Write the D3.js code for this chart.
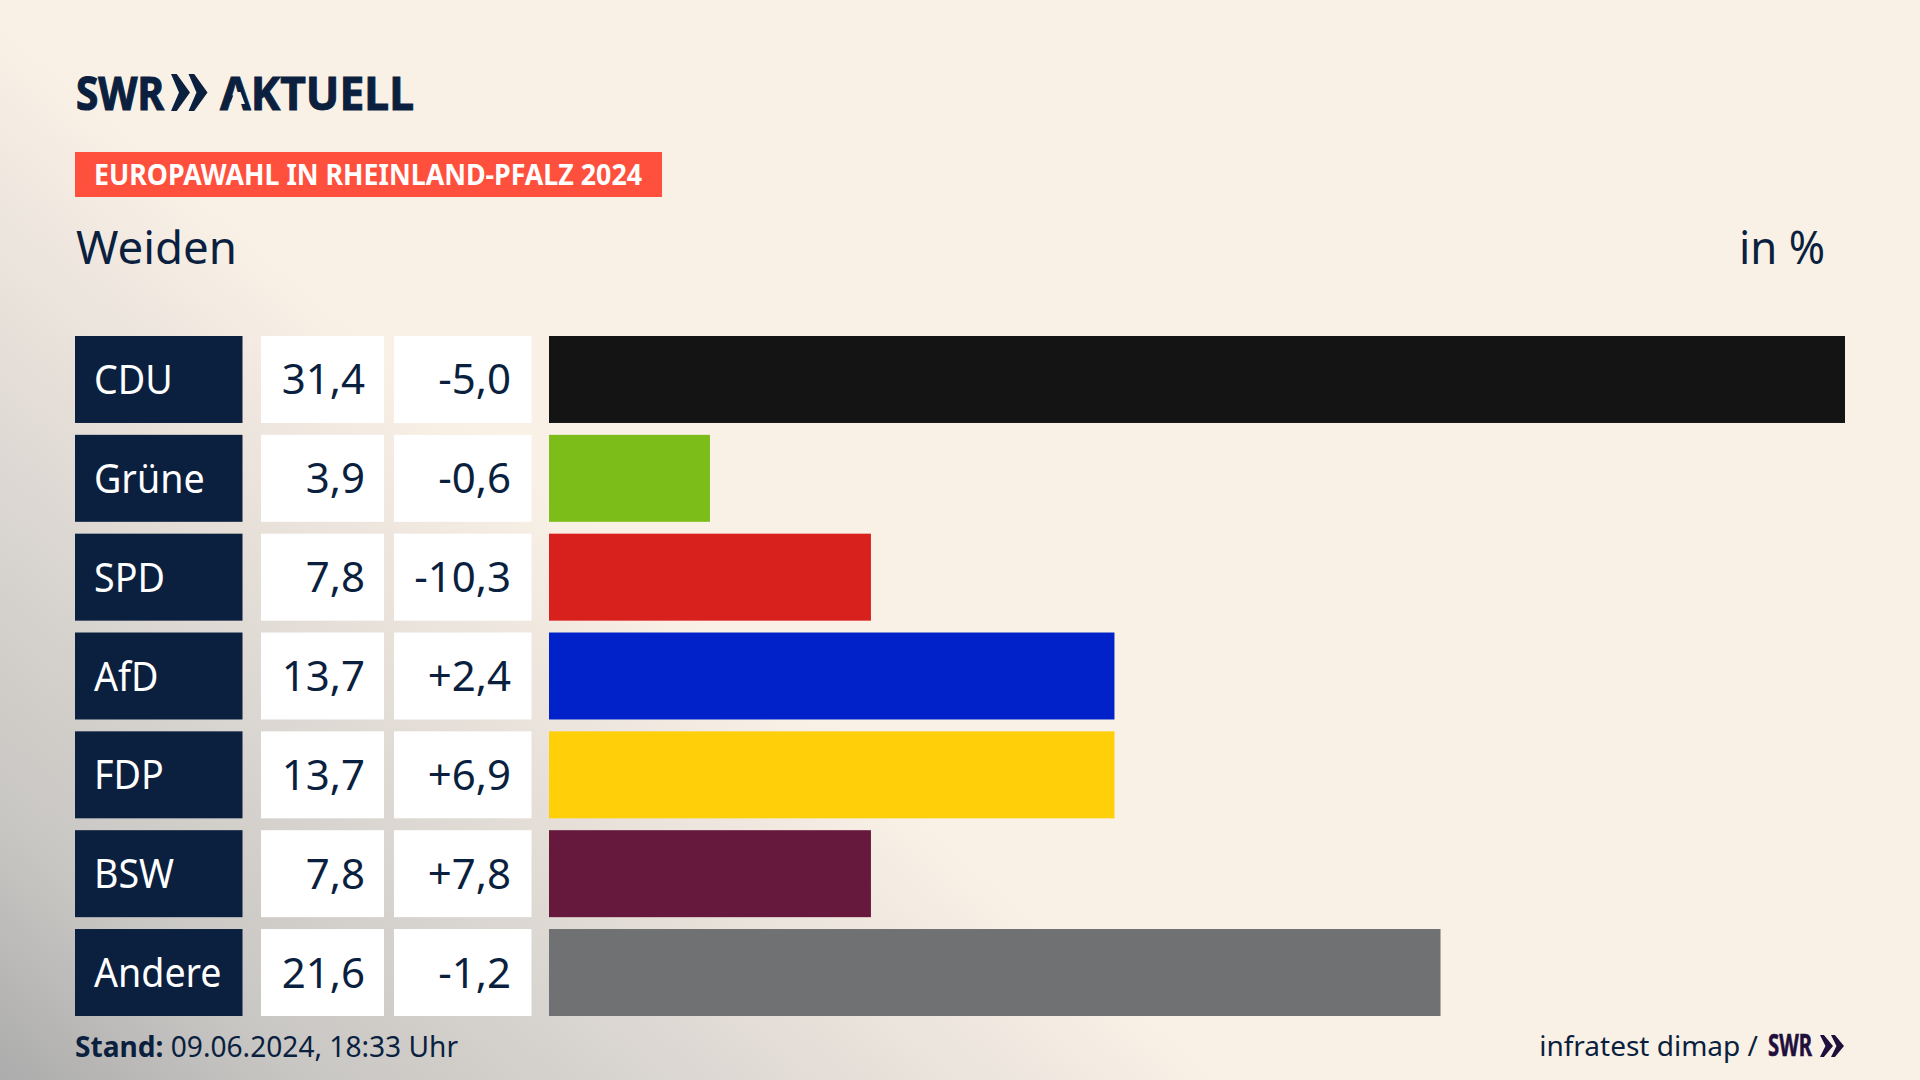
<!DOCTYPE html>
<html lang="de">
<head>
<meta charset="utf-8">
<script src="https://cdn.jsdelivr.net/npm/d3@7"></script>
<style>
html,body{margin:0;padding:0;background:#faf1e6;overflow:hidden}
svg{display:block}
text{font-family:"Noto Sans",sans-serif}
</style>
</head>
<body>
<svg id="chart" width="1920" height="1080" viewBox="0 0 1920 1080"></svg>
<script>
const parties = ["CDU","Grüne","SPD","AfD","FDP","BSW","Andere"];
const shares  = [31.4,3.9,7.8,13.7,13.7,7.8,21.6];
const changes = [-5.0,-0.6,-10.3,2.4,6.9,7.8,-1.2];
const barColors = ["#141414","#7cbd1a","#d8201c","#0022c8","#ffcf0a","#66193d","#707173"];
const badgeText = "EUROPAWAHL IN RHEINLAND-PFALZ 2024";
const titleText = "Weiden";
const unitText = "in %";
const standLabel = "Stand:";
const standText = "09.06.2024, 18:33 Uhr";
const sourceText = "infratest dimap /";

const navy = "#0b1f3f";
const svg = d3.select("#chart");
const locale = d3.formatLocale({decimal:",",thousands:".",grouping:[3],currency:["","€"],minus:"-"});
const fmtShare = locale.format(".1f");
const fmtChange = locale.format("+.1f");

// background
const defs = svg.append("defs");
const g1 = defs.append("linearGradient").attr("id","bg1").attr("gradientUnits","userSpaceOnUse")
  .attr("x1",0).attr("y1",1080).attr("x2",534).attr("y2",462);
[[0,"#acacac"],[0.24,"#c8c6c3"],[0.52,"#d9d5d0"],[0.72,"#e8e1da"],[0.96,"#f8efe5"],[1,"#faf1e6"]]
  .forEach(([o,c])=>g1.append("stop").attr("offset",o).attr("stop-color",c));
svg.append("rect").attr("width",1920).attr("height",1080).attr("fill","url(#bg1)");

// scales
const y = d3.scaleBand().domain(parties).range([336,1016]).paddingInner(0.12);
const x = d3.scaleLinear().domain([0,d3.max(shares)]).range([549,1845]);
const rows = parties.map((p,i)=>({p,share:shares[i],change:changes[i],color:barColors[i]}));

function chevrons(sel,x0,yTop,h,w,gap,fill){
  [0,1].forEach(k=>{
    const l=x0+k*gap;
    sel.append("path").attr("fill",fill)
      .attr("d",`M${l},${yTop} L${l+w*0.3},${yTop} L${l+w},${yTop+h/2} L${l+w*0.3},${yTop+h} L${l},${yTop+h} L${l+w*0.42},${yTop+h/2} Z`);
  });
}
function squeeze(sel,k){
  sel.each(function(){
    const t=d3.select(this);
    t.attr("textLength",this.getComputedTextLength()*k).attr("lengthAdjust","spacingAndGlyphs");
  });
}

// logo
const logoFont = '"Liberation Sans Narrow","Noto Sans",sans-serif';
const logo = svg.append("g").attr("fill",navy);
logo.append("text").attr("x",76).attr("y",110).attr("font-size",47).attr("font-weight",700)
  .attr("stroke",navy).attr("stroke-width",1.2).style("font-family",logoFont)
  .attr("textLength",88).attr("lengthAdjust","spacingAndGlyphs").text("SWR");
chevrons(logo,171,74,37,19,17.5,navy);
logo.append("text").attr("x",220).attr("y",110).attr("font-size",47).attr("font-weight",700)
  .attr("stroke",navy).attr("stroke-width",1).style("font-family",logoFont)
  .attr("textLength",194).attr("lengthAdjust","spacingAndGlyphs").text("AKTUELL");
// the wordmark's A has no crossbar
svg.append("path").attr("fill","#f9f0e6").attr("d","M234.5,92 L240.5,92 L245,104 L230,104 Z");

// badge
svg.append("rect").attr("x",75).attr("y",152).attr("width",587).attr("height",45).attr("fill","#ff4f3d");
svg.append("text").attr("x",94).attr("y",185).attr("font-size",28).attr("font-weight",700).attr("fill","#fff")
  .attr("textLength",548).attr("lengthAdjust","spacingAndGlyphs").text(badgeText);

// title
svg.append("text").attr("x",76).attr("y",264).attr("font-size",46).attr("fill",navy)
  .attr("textLength",161).attr("lengthAdjust","spacingAndGlyphs").text(titleText);
svg.append("text").attr("x",1739).attr("y",264).attr("font-size",46).attr("fill",navy)
  .attr("textLength",86).attr("lengthAdjust","spacingAndGlyphs").text(unitText);

// rows
const row = svg.append("g").selectAll("g").data(rows).join("g");
row.append("rect").attr("x",75).attr("y",d=>y(d.p)).attr("width",167.5).attr("height",y.bandwidth()).attr("fill",navy);
row.append("rect").attr("x",261).attr("y",d=>y(d.p)).attr("width",123).attr("height",y.bandwidth()).attr("fill","#fff");
row.append("rect").attr("x",394).attr("y",d=>y(d.p)).attr("width",137.5).attr("height",y.bandwidth()).attr("fill","#fff");
row.append("rect").attr("x",x(0)).attr("y",d=>y(d.p)).attr("width",d=>x(d.share)-x(0)).attr("height",y.bandwidth()).attr("fill",d=>d.color);
const base = d=>y(d.p)+y.bandwidth()/2+15;
row.append("text").attr("x",94).attr("y",d=>base(d)-0.5).attr("font-size",40).attr("fill","#fff").text(d=>d.p).call(squeeze,0.94);
row.append("text").attr("x",365).attr("y",base).attr("font-size",42).attr("fill",navy).attr("text-anchor","end").text(d=>fmtShare(d.share));
row.append("text").attr("x",511).attr("y",base).attr("font-size",42).attr("fill",navy).attr("text-anchor","end").text(d=>fmtChange(d.change));

// footer
const foot = svg.append("text").attr("x",75).attr("y",1057).attr("font-size",28.5).attr("fill",navy)
  .attr("textLength",383).attr("lengthAdjust","spacingAndGlyphs");
foot.append("tspan").attr("font-weight",700).text(standLabel);
foot.append("tspan").text(" "+standText);
svg.append("text").attr("x",1758).attr("y",1056).attr("font-size",28).attr("fill",navy).attr("text-anchor","end").text(sourceText);
svg.append("text").attr("x",1768).attr("y",1056).attr("font-size",30).attr("font-weight",700).attr("fill","#1f0f3d")
  .attr("stroke","#1f0f3d").attr("stroke-width",0.6).style("font-family",logoFont)
  .attr("textLength",44).attr("lengthAdjust","spacingAndGlyphs").text("SWR");
chevrons(svg,1820,1035,22,13,11,"#1f0f3d");
</script>
</body>
</html>
